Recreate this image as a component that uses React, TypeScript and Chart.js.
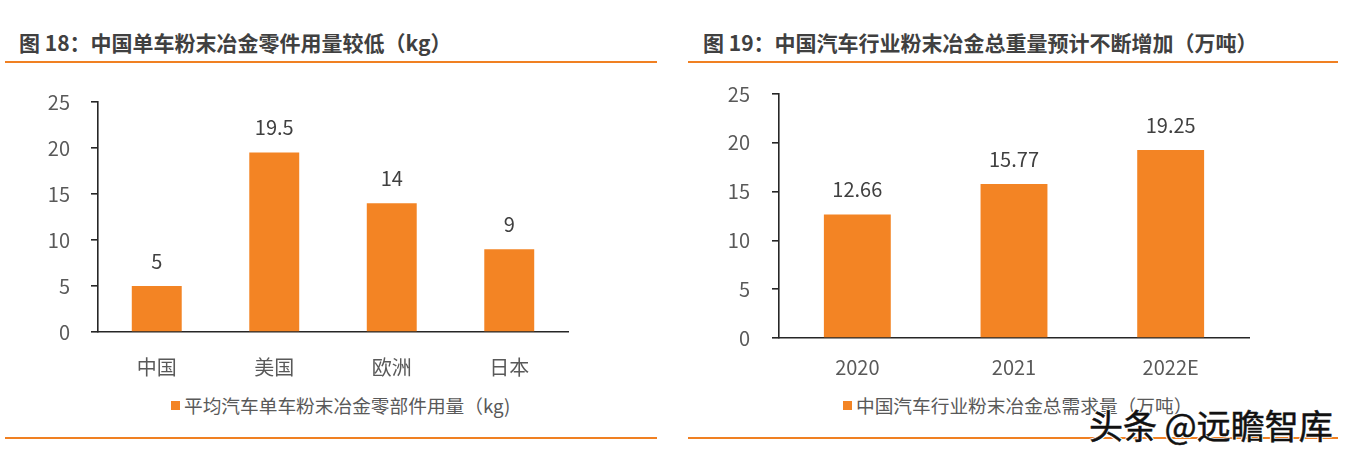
import React, { useEffect, useRef } from "react";
import { Chart, registerables } from "chart.js";

Chart.register(...registerables);

const leftCategories = ["中国", "美国", "欧洲", "日本"];
const leftValues = [5, 19.5, 14, 9];
const leftTitle = "图 18：中国单车粉末冶金零件用量较低（kg）";
const leftLegend = "平均汽车单车粉末冶金零部件用量（kg)";

const rightCategories = ["2020", "2021", "2022E"];
const rightValues = [12.66, 15.77, 19.25];
const rightTitle = "图 19：中国汽车行业粉末冶金总重量预计不断增加（万吨）";
const rightLegend = "中国汽车行业粉末冶金总需求量（万吨）";

const yTicks = [0, 5, 10, 15, 20, 25];

const ORANGE = "#F38424";
const FONT = "'Noto Sans CJK SC', 'Noto Sans', sans-serif";

const dataLabelPlugin = {
  id: "dataLabels",
  afterDatasetsDraw(chart: any) {
    const ctx = chart.ctx;
    ctx.save();
    ctx.font = `20px ${FONT}`;
    ctx.fillStyle = "#404040";
    ctx.textAlign = "center";
    ctx.textBaseline = "middle";
    chart.data.datasets.forEach((ds: any, di: number) => {
      const meta = chart.getDatasetMeta(di);
      meta.data.forEach((el: any, i: number) => {
        ctx.fillText(String(ds.data[i]), el.x, el.y - 25);
      });
    });
    ctx.restore();
  },
};

type Geo = {
  yWidth: number;
  xHeight: number;
  padTop: number;
  padRight: number;
  xLabelPad: number;
  yLabelPad: number;
  barPct: number;
};

function BarChart(props: {
  labels: string[];
  values: number[];
  legend: string;
  width: number;
  height: number;
  geo: Geo;
}) {
  const ref = useRef<HTMLCanvasElement>(null);
  useEffect(() => {
    if (!ref.current) return;
    const g = props.geo;
    const chart = new Chart(ref.current, {
      type: "bar",
      data: {
        labels: props.labels,
        datasets: [
          {
            label: props.legend,
            data: props.values,
            backgroundColor: ORANGE,
            borderWidth: 0,
            categoryPercentage: 1,
            barPercentage: g.barPct,
          },
        ],
      },
      options: {
        animation: false,
        responsive: false,
        maintainAspectRatio: false,
        layout: { padding: { top: g.padTop, right: g.padRight, left: 0, bottom: 0 } },
        plugins: {
          legend: { display: false },
          tooltip: { enabled: false },
        },
        scales: {
          x: {
            grid: { display: true, drawOnChartArea: false, drawTicks: false },
            border: { display: true, color: "#262626", width: 1.6 },
            ticks: {
              color: "#595959",
              font: { family: FONT, size: 20 },
              padding: g.xLabelPad,
              maxRotation: 0,
            },
            afterFit: (s: any) => {
              s.height = g.xHeight;
            },
          },
          y: {
            min: 0,
            max: 25,
            afterBuildTicks: (s: any) => {
              s.ticks = yTicks.map((v) => ({ value: v }));
            },
            grid: {
              display: true,
              drawOnChartArea: false,
              drawTicks: true,
              tickLength: 7,
              color: "#262626",
              lineWidth: 1.6,
            },
            border: { display: true, color: "#262626", width: 1.6 },
            ticks: {
              color: "#595959",
              font: { family: FONT, size: 20 },
              padding: g.yLabelPad,
            },
            afterFit: (s: any) => {
              s.width = g.yWidth;
            },
          },
        },
      },
      plugins: [dataLabelPlugin],
    });
    return () => chart.destroy();
  }, []);
  return (
    <canvas
      ref={ref}
      width={props.width}
      height={props.height}
      style={{ width: props.width, height: props.height, display: "block" }}
    />
  );
}

const titleStyle: React.CSSProperties = {
  position: "absolute",
  top: 27,
  fontFamily: FONT,
  fontWeight: 700,
  fontSize: 21,
  lineHeight: "30px",
  color: "#404040",
  whiteSpace: "nowrap",
};

function Line(props: { x: number; y: number; w: number }) {
  return (
    <div
      style={{
        position: "absolute",
        left: props.x,
        top: props.y,
        width: props.w,
        height: 2,
        background: "#F08022",
      }}
    />
  );
}

function Legend(props: { x: number; y: number; text: string }) {
  return (
    <div
      style={{
        position: "absolute",
        left: props.x,
        top: props.y,
        display: "flex",
        alignItems: "center",
        fontFamily: FONT,
        fontSize: 18.7,
        lineHeight: "24px",
        color: "#595959",
        whiteSpace: "nowrap",
      }}
    >
      <span style={{ width: 9, height: 9, background: ORANGE, marginRight: 4, display: "inline-block" }} />
      <span>{props.text}</span>
    </div>
  );
}

export default function App() {
  return (
    <div
      style={{
        position: "absolute",
        left: 0,
        top: 0,
        width: 1348,
        height: 457,
        background: "#ffffff",
        overflow: "hidden",
      }}
    >
      <div style={{ ...titleStyle, left: 19 }}>{leftTitle}</div>
      <div style={{ ...titleStyle, left: 703 }}>{rightTitle}</div>
      <Line x={5} y={61} w={652} />
      <Line x={688} y={61} w={650} />
      <Line x={5} y={437} w={652} />
      <Line x={688} y={437} w={650} />

      <div style={{ position: "absolute", left: 0, top: 68 }}>
        <BarChart
          labels={leftCategories}
          values={leftValues}
          legend={leftLegend}
          width={670}
          height={322}
          geo={{ yWidth: 98, xHeight: 58, padTop: 34, padRight: 102, xLabelPad: 23, yLabelPad: 21, barPct: 0.425 }}
        />
      </div>
      <div style={{ position: "absolute", left: 680, top: 60 }}>
        <BarChart
          labels={rightCategories}
          values={rightValues}
          legend={rightLegend}
          width={668}
          height={330}
          geo={{ yWidth: 99, xHeight: 52, padTop: 34, padRight: 99, xLabelPad: 17, yLabelPad: 22, barPct: 0.427 }}
        />
      </div>

      <Legend x={171} y={393} text={leftLegend} />
      <Legend x={843} y={393} text={rightLegend} />

      <div
        style={{
          position: "absolute",
          left: 1089,
          top: 403,
          fontFamily: FONT,
          fontSize: 34,
          lineHeight: "44px",
          color: "#111",
          whiteSpace: "nowrap",
          WebkitTextStroke: "0.5px #111",
          textShadow: "1px 1px 0 #fff, -1px -1px 0 #fff, 1px -1px 0 #fff, -1px 1px 0 #fff",
        }}
      >
        头条 @远瞻智库
      </div>
    </div>
  );
}
